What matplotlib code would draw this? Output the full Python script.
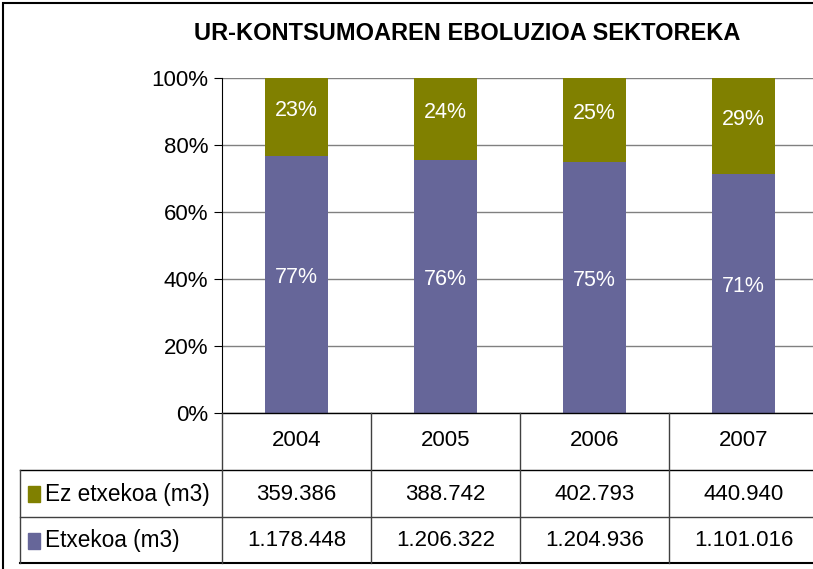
import matplotlib
matplotlib.use("Agg")
import matplotlib.pyplot as plt
from matplotlib.lines import Line2D
from matplotlib.patches import Rectangle
import numpy as np

plt.rcParams['font.family'] = ['Liberation Sans', 'DejaVu Sans']

years = ['2004', '2005', '2006', '2007']
ez_etxekoa = [359386, 388742, 402793, 440940]
etxekoa = [1178448, 1206322, 1204936, 1101016]
ez_labels = ['359.386', '388.742', '402.793', '440.940']
etx_labels = ['1.178.448', '1.206.322', '1.204.936', '1.101.016']
series_names = ['Ez etxekoa (m3)', 'Etxekoa (m3)']
title = 'UR-KONTSUMOAREN EBOLUZIOA SEKTOREKA'

c_ez = '#808000'
c_etx = '#666699'

W, H = 813, 569
fig = plt.figure(figsize=(W/100, H/100), dpi=100)

def fx(x): return x / W
def fy(y): return (H - y) / H

# outer border
fig.add_artist(Rectangle((fx(3), fy(H + 10)), fx(W + 20), fy(3) - fy(H + 10),
                         transform=fig.transFigure, fill=False, edgecolor='black', lw=1.5))

x0, x1, ytop, ybot = 222, 818, 78, 413
ax = fig.add_axes([fx(x0), fy(ybot), fx(x1) - fx(x0), fy(ytop) - fy(ybot)])

tot = np.array(ez_etxekoa) + np.array(etxekoa)
p_etx = np.array(etxekoa) / tot * 100
p_ez = np.array(ez_etxekoa) / tot * 100
x = np.arange(len(years))
bw = 0.42
ax.bar(x, p_etx, bw, color=c_etx, zorder=3)
ax.bar(x, p_ez, bw, bottom=p_etx, color=c_ez, zorder=3)
for i in range(len(years)):
    ax.text(x[i], p_etx[i] / 2 + 2, f'{round(p_etx[i]):.0f}%', ha='center', va='center',
            color='white', fontsize=15.5, zorder=4)
    ax.text(x[i], p_etx[i] + p_ez[i] / 2 + 2, f'{round(p_ez[i]):.0f}%', ha='center', va='center',
            color='white', fontsize=15.5, zorder=4)

ax.set_xlim(-0.5, 3.5)
ax.set_ylim(0, 100)
ax.set_yticks(np.arange(0, 101, 20))
ax.set_yticklabels([f'{v}%' for v in range(0, 101, 20)], fontsize=16)
ax.set_xticks([])
ax.yaxis.grid(True, color='#808080', lw=1, zorder=0)
for s in ['top', 'right', 'bottom']:
    ax.spines[s].set_visible(False)
ax.spines['left'].set_color('black')
ax.tick_params(axis='y', length=6, color='black', pad=4)

fig.text(fx(467), fy(33), title, ha='center', va='center', fontsize=17, fontweight='bold')

# table
col_edges = [222, 371, 520, 669, 818]
lc = '#404040'
def hline(y, xa, xb, lw=1, c=lc):
    fig.add_artist(Line2D([fx(xa), fx(xb)], [fy(y), fy(y)], transform=fig.transFigure, color=c, lw=lw))
def vline(xx, ya, yb, lw=1, c=lc):
    fig.add_artist(Line2D([fx(xx), fx(xx)], [fy(ya), fy(yb)], transform=fig.transFigure, color=c, lw=lw))

hline(413, 222, 830, c='black')
hline(470, 20, 830, c='black')
hline(517, 20, 830)
hline(563, 20, 830, lw=1.5, c='black')
for xx in col_edges:
    vline(xx, 413, 563)
vline(20, 470, 563)

for i, yl in enumerate(years):
    cx = (col_edges[i] + col_edges[i + 1]) / 2
    fig.text(fx(cx), fy(440), yl, ha='center', va='center', fontsize=16)
    fig.text(fx(cx), fy(494), ez_labels[i], ha='center', va='center', fontsize=16)
    fig.text(fx(cx), fy(541), etx_labels[i], ha='center', va='center', fontsize=16)

for yc, name, col in [(494, series_names[0], c_ez), (541, series_names[1], c_etx)]:
    fig.add_artist(Rectangle((fx(28), fy(yc + 8)), fx(12), fy(yc - 8) - fy(yc + 8),
                             transform=fig.transFigure, color=col))
    fig.text(fx(45), fy(yc), name, ha='left', va='center', fontsize=16.3)

fig.savefig('out.png', dpi=100)
